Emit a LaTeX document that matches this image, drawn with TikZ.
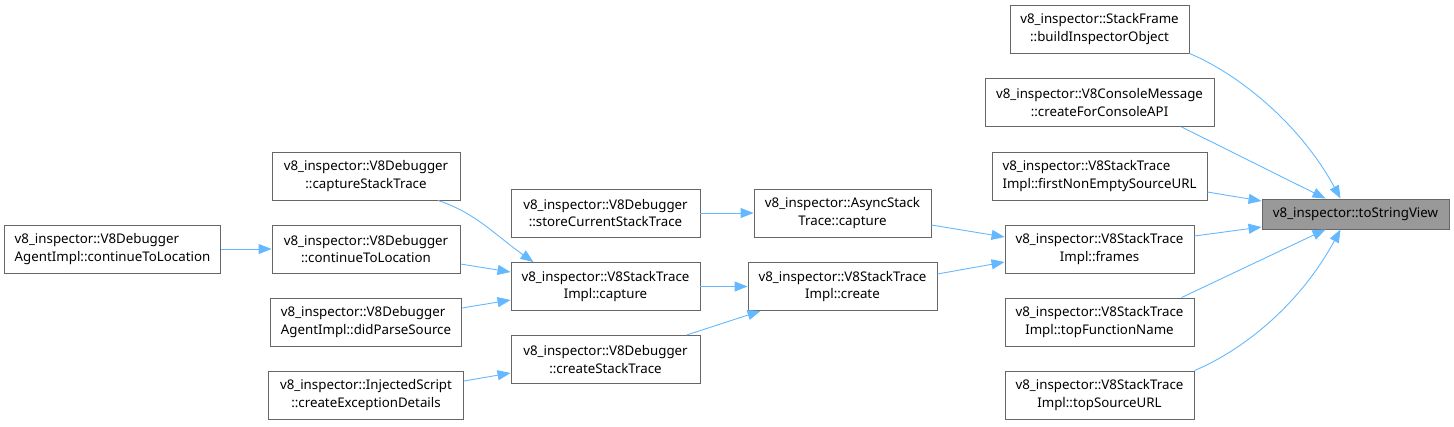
\documentclass[tikz,border=0pt]{standalone}
\usepackage{fontspec}
\setmainfont{Noto Sans}
\usetikzlibrary{arrows.meta}
\definecolor{edgeblue}{HTML}{63B8FF}
\definecolor{boxgray}{HTML}{999999}
\definecolor{boxline}{HTML}{666666}
\begin{document}
\begin{tikzpicture}[x=1pt,y=-1pt,
  box/.style={draw=boxline,line width=0.9pt,fill=white,rectangle,inner sep=0pt,
    minimum height=48pt,align=center,
    font=\fontsize{13.3pt}{17.7pt}\selectfont},
  lbox/.style={box,align=left},
  tbox/.style={box,fill=boxgray,minimum height=30pt},
  edge/.style={draw=edgeblue,line width=0.9pt,-{Triangle[length=13pt,width=10pt]}}]
\useasboundingbox (0,0) rectangle (1454,426);
% column 4
\node[tbox,minimum width=187pt] (t) at (1355.5,214) {v8\_inspector::toStringView};
\node[box,minimum width=179pt] (sf) at (1099.5,29) {v8\_inspector::StackFrame\\::buildInspectorObject};
\node[box,minimum width=229pt] (cm) at (1099.5,102.5) {v8\_inspector::V8ConsoleMessage\\::createForConsoleAPI};
\node[lbox,minimum width=215pt] (fn) at (1099.5,176) {v8\_inspector::V8StackTrace\\Impl::firstNonEmptySourceURL};
\node[box,minimum width=189pt] (fr) at (1099.5,249) {v8\_inspector::V8StackTrace\\Impl::frames};
\node[box,minimum width=189pt] (tf) at (1099.5,322) {v8\_inspector::V8StackTrace\\Impl::topFunctionName};
\node[box,minimum width=189pt] (ts) at (1099.5,395) {v8\_inspector::V8StackTrace\\Impl::topSourceURL};
% column 3
\node[box,minimum width=177pt] (as) at (842.5,213) {v8\_inspector::AsyncStack\\Trace::capture};
\node[box,minimum width=189pt] (cr) at (842.5,286.5) {v8\_inspector::V8StackTrace\\Impl::create};
% column 2
\node[box,minimum width=189pt] (st) at (605.5,213) {v8\_inspector::V8Debugger\\::storeCurrentStackTrace};
\node[box,minimum width=189pt] (ca) at (605.5,286.5) {v8\_inspector::V8StackTrace\\Impl::capture};
\node[box,minimum width=189pt] (cs) at (605.5,359.5) {v8\_inspector::V8Debugger\\::createStackTrace};
% column 1
\node[box,minimum width=188pt] (cst) at (366,176) {v8\_inspector::V8Debugger\\::captureStackTrace};
\node[box,minimum width=188pt] (ctl) at (366,249) {v8\_inspector::V8Debugger\\::continueToLocation};
\node[lbox,minimum width=191pt] (dps) at (366,322) {v8\_inspector::V8Debugger\\AgentImpl::didParseSource};
\node[box,minimum width=195pt] (ced) at (366,395) {v8\_inspector::InjectedScript\\::createExceptionDetails};
% column 0
\node[lbox,minimum width=216pt] (ag) at (112.5,249) {v8\_inspector::V8Debugger\\AgentImpl::continueToLocation};
% edges into target
\draw[edge] (sf.south east) .. controls +(50,21) and +(-40,-74) .. ([xshift=-15pt]t.north);
\draw[edge] ([xshift=82pt]cm.south) -- ([xshift=-30pt]t.north);
\draw[edge] ([yshift=-16pt]fn.east) -- ([yshift=13pt]t.west);
\draw[edge] ([yshift=13pt]fr.east) -- ([yshift=-13pt]t.west);
\draw[edge] ([xshift=82pt]tf.north) -- ([xshift=-30pt]t.south);
\draw[edge] (ts.north east) .. controls +(50,-21) and +(-40,74) .. ([xshift=-15pt]t.south);
% into frames
\draw[edge] ([yshift=-12pt]as.east) -- ([yshift=12pt]fr.west);
\draw[edge] ([yshift=12.5pt]cr.east) -- ([yshift=-13pt]fr.west);
% column 2 -> 3
\draw[edge] (st) -- (as);
\draw[edge] (ca) -- (cr);
\draw[edge] ([xshift=81pt]cs.north) -- ([xshift=-82pt]cr.south);
% column 1 -> 2
\draw[edge] ([xshift=72pt]cst.south) .. controls +(37,12) and +(-37,-26) .. ([xshift=-72pt]ca.north);
\draw[edge] ([yshift=-15pt]ctl.east) -- ([yshift=14.5pt]ca.west);
\draw[edge] ([yshift=14pt]dps.east) -- ([yshift=-13.5pt]ca.west);
\draw[edge] ([yshift=14pt]ced.east) -- ([yshift=-13.5pt]cs.west);
% column 0 -> 1
\draw[edge] (ag) -- (ctl);
\end{tikzpicture}
\end{document}
